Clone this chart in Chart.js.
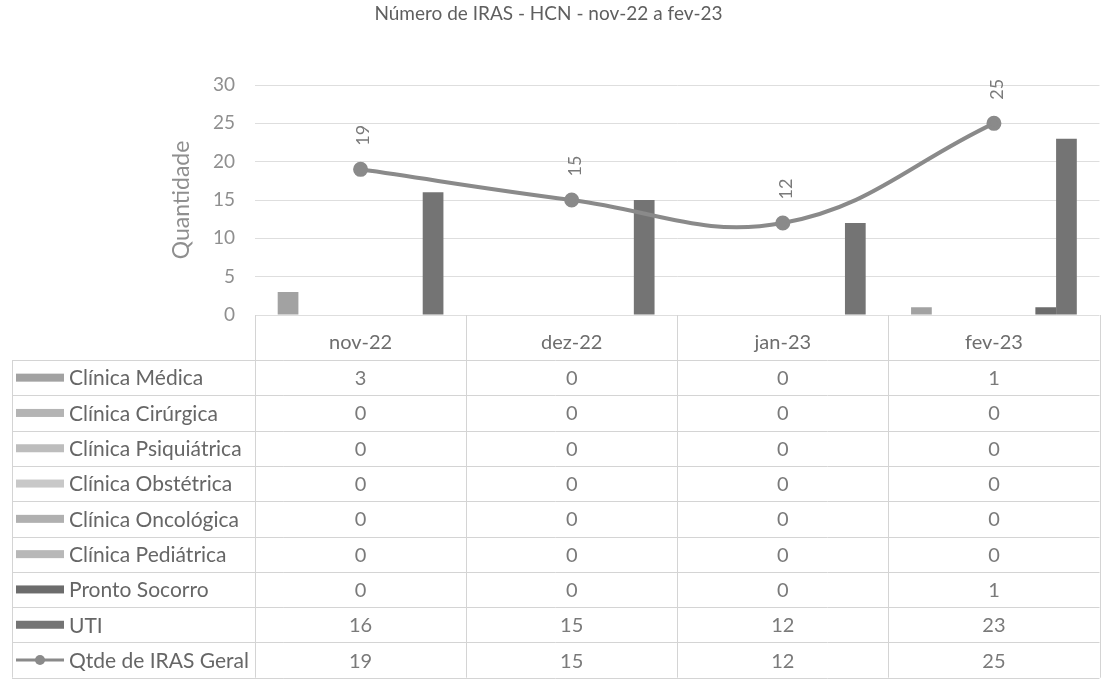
<!DOCTYPE html>
<html><head><meta charset="utf-8">
<script src="https://cdn.jsdelivr.net/npm/chart.js@4.4.0/dist/chart.umd.min.js"></script>
<style>html,body{margin:0;padding:0;background:#fff}#wrap{width:1109px;height:681px;position:relative}</style>
</head><body><div id="wrap"><canvas id="c" width="1109" height="681"></canvas></div>
<script>
const categories = ['nov-22','dez-22','jan-23','fev-23'];
const seriesNames = ['Clínica Médica','Clínica Cirúrgica','Clínica Psiquiátrica','Clínica Obstétrica','Clínica Oncológica','Clínica Pediátrica','Pronto Socorro','UTI'];
const clinicaMedica = [3,0,0,1];
const clinicaCirurgica = [0,0,0,0];
const clinicaPsiquiatrica = [0,0,0,0];
const clinicaObstetrica = [0,0,0,0];
const clinicaOncologica = [0,0,0,0];
const clinicaPediatrica = [0,0,0,0];
const prontoSocorro = [0,0,0,1];
const uti = [16,15,12,23];
const lineName = 'Qtde de IRAS Geral';
const qtdeGeral = [19,15,12,25];
const yTicks = [0,5,10,15,20,25,30];
const chartTitle = 'Número de IRAS - HCN - nov-22 a fev-23';

const barValues = [clinicaMedica,clinicaCirurgica,clinicaPsiquiatrica,clinicaObstetrica,clinicaOncologica,clinicaPediatrica,prontoSocorro,uti];
const barColors = ['#a2a2a2','#b4b4b4','#bdbdbd','#c8c8c8','#b0b0b0','#b8b8b8','#6c6c6c','#747474'];
const lineColor = '#8a8a8a';
const FONT = 'Lato, "Noto Sans", sans-serif';

const datasets = barValues.map((vals,i)=>({
  type:'bar', label:seriesNames[i], data:vals, backgroundColor:barColors[i],
  borderWidth:0, order:1, categoryPercentage:0.785, barPercentage:1
}));
datasets.push({
  type:'line', label:lineName, data:qtdeGeral, borderColor:lineColor, backgroundColor:lineColor,
  borderWidth:4, pointRadius:5.5, pointBackgroundColor:lineColor, pointBorderColor:lineColor,
  tension:0.4, order:0
});

const titlePlugin = {
  id:'customTitle',
  afterDraw(chart){
    const ctx = chart.ctx;
    ctx.save();
    ctx.font = '19px ' + FONT;
    ctx.fillStyle = '#5f5f5f';
    ctx.textAlign = 'center'; ctx.textBaseline = 'middle';
    ctx.fillText(chartTitle, chart.width/2 - 6, 14);
    ctx.restore();
  }
};

const lineLabelPlugin = {
  id:'lineLabels',
  afterDatasetsDraw(chart){
    const ctx = chart.ctx;
    const idx = chart.data.datasets.length-1;
    const meta = chart.getDatasetMeta(idx);
    ctx.save();
    ctx.fillStyle = '#7a7a7a';
    ctx.font = '18px ' + FONT;
    meta.data.forEach((pt,i)=>{
      ctx.save();
      ctx.translate(pt.x + 3, pt.y - 34);
      ctx.rotate(-Math.PI/2);
      ctx.textAlign='center'; ctx.textBaseline='middle';
      ctx.fillText(String(chart.data.datasets[idx].data[i]),0,0);
      ctx.restore();
    });
    ctx.restore();
  }
};

const tablePlugin = {
  id:'dataTable',
  afterDraw(chart){
    const ctx = chart.ctx, xs = chart.scales.x, area = chart.chartArea;
    const n = categories.length;
    const catW = (area.right - area.left) / n;
    const top = area.bottom;
    const headerBottom = top + 45;
    const rowH = 35.3;
    const rows = chart.data.datasets.length;
    const bottom = headerBottom + rows*rowH;
    const leftX = 12;
    ctx.save();
    ctx.strokeStyle = '#d4d4d4';
    ctx.lineWidth = 1;
    for(let r=0;r<=rows;r++){
      const y = Math.round(headerBottom + r*rowH)+0.5;
      ctx.beginPath(); ctx.moveTo(leftX,y); ctx.lineTo(area.right,y); ctx.stroke();
    }
    for(let c=0;c<=n;c++){
      const x = Math.round(area.left + c*catW)+0.5;
      ctx.beginPath(); ctx.moveTo(x,top); ctx.lineTo(x,bottom); ctx.stroke();
    }
    ctx.beginPath(); ctx.moveTo(leftX+0.5,headerBottom); ctx.lineTo(leftX+0.5,bottom); ctx.stroke();
    ctx.font = '20px ' + FONT;
    ctx.fillStyle = '#6e6e6e';
    ctx.textAlign='center'; ctx.textBaseline='middle';
    categories.forEach((c,i)=>{
      ctx.fillText(c, xs.getPixelForValue(i), top + 28);
    });
    chart.data.datasets.forEach((ds,r)=>{
      const cy = headerBottom + r*rowH + rowH/2;
      if(ds.type==='line'){
        ctx.strokeStyle = ds.borderColor; ctx.lineWidth = 3;
        ctx.beginPath(); ctx.moveTo(16,cy); ctx.lineTo(64,cy); ctx.stroke();
        ctx.fillStyle = ds.borderColor;
        ctx.beginPath(); ctx.arc(40,cy,5,0,Math.PI*2); ctx.fill();
        ctx.lineWidth = 1; ctx.strokeStyle = '#d4d4d4';
      } else {
        ctx.fillStyle = ds.backgroundColor;
        ctx.fillRect(16, cy-4, 48, 8);
      }
      ctx.font = '21px ' + FONT;
      ctx.fillStyle = '#666';
      ctx.textAlign='left';
      ctx.fillText(ds.label, 69, cy+1);
      ctx.font = '20px ' + FONT;
      ctx.fillStyle = '#7a7a7a';
      ctx.textAlign='center';
      ds.data.forEach((v,i)=>{
        ctx.fillText(String(v), xs.getPixelForValue(i), cy+1);
      });
    });
    ctx.restore();
  }
};

new Chart(document.getElementById('c'), {
  data:{labels:categories, datasets},
  options:{
    responsive:false, animation:false,
    layout:{padding:{left:160,right:4,top:85,bottom:358}},
    plugins:{
      legend:{display:false}, tooltip:{enabled:false}, title:{display:false}
    },
    scales:{
      x:{display:true, grid:{display:false}, border:{display:false}, ticks:{display:false}},
      y:{min:0,max:30,
        afterBuildTicks(s){ s.ticks = yTicks.map(v=>({value:v})); },
        afterFit(s){ s.width = 95; },
        grid:{color:'#dedede', drawTicks:false}, border:{display:false},
        ticks:{color:'#8f8f8f', font:{family:FONT,size:19}, padding:20},
        title:{display:true,text:'Quantidade',color:'#8f8f8f',font:{family:FONT,size:23},padding:{top:8,bottom:0}}
      }
    }
  },
  plugins:[lineLabelPlugin, tablePlugin, titlePlugin]
});
</script></body></html>
